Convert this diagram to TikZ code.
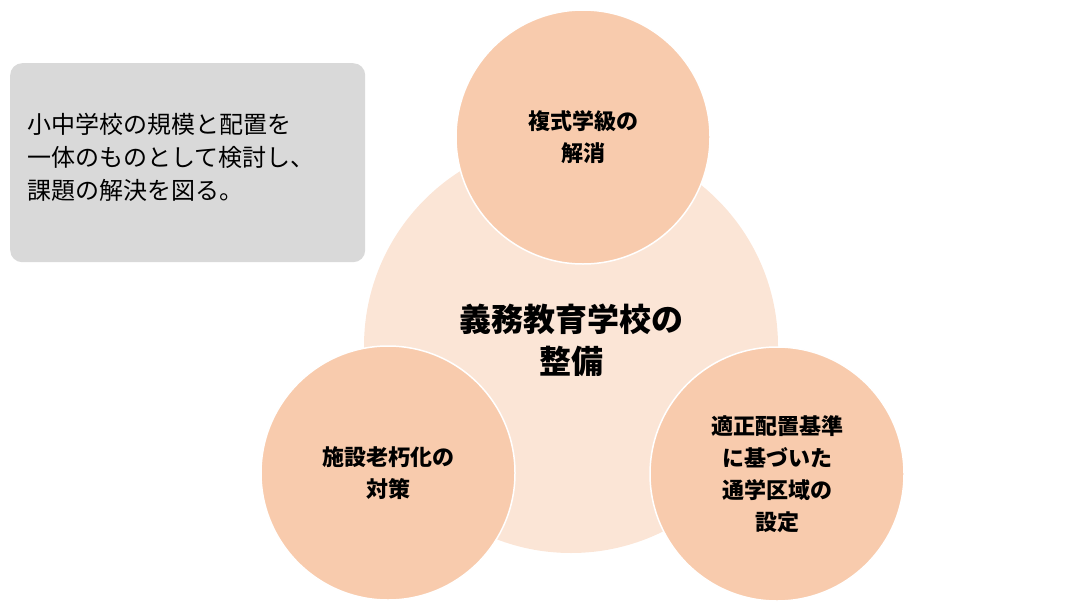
\documentclass[tikz,border=0pt]{standalone}
\usepackage{fontspec}
\newfontfamily\cjk{Noto Sans CJK JP}
\begin{document}
\begin{tikzpicture}[x=1pt,y=-1pt,
 small/.style={circle,fill=sc,draw=white,line width=1.5pt,minimum size=254pt,align=center,font=\cjk\bfseries\fontsize{22}{32}\selectfont},
]
\definecolor{bc}{HTML}{FBE5D6}
\definecolor{sc}{HTML}{F8CBAD}
\definecolor{gc}{HTML}{D9D9D9}
\useasboundingbox (0,0) rectangle (1086,613);
\node[circle,fill=bc,minimum size=414pt,inner sep=0pt] (big) at (571,346) {};
\node[align=center,font=\cjk\bfseries\fontsize{32}{42}\selectfont] (bt) at (571,340) {義務教育学校の\\整備};
\node[small] (top) at (583,137) {複式学級の\\解消};
\node[small] (left) at (388,473) {施設老朽化の\\対策};
\node[small] (right) at (777,474) {適正配置基準\\に基づいた\\通学区域の\\設定};
\node[fill=gc,rounded corners=12pt,minimum width=355pt,minimum height=199pt,anchor=north west,inner sep=0pt] (box) at (10,63) {};
\node[anchor=north west,align=left,font=\cjk\fontsize{24}{33}\selectfont] (bx) at (24,110) {小中学校の規模と配置を\\一体のものとして検討し、\\課題の解決を図る。};
\end{tikzpicture}
\end{document}
